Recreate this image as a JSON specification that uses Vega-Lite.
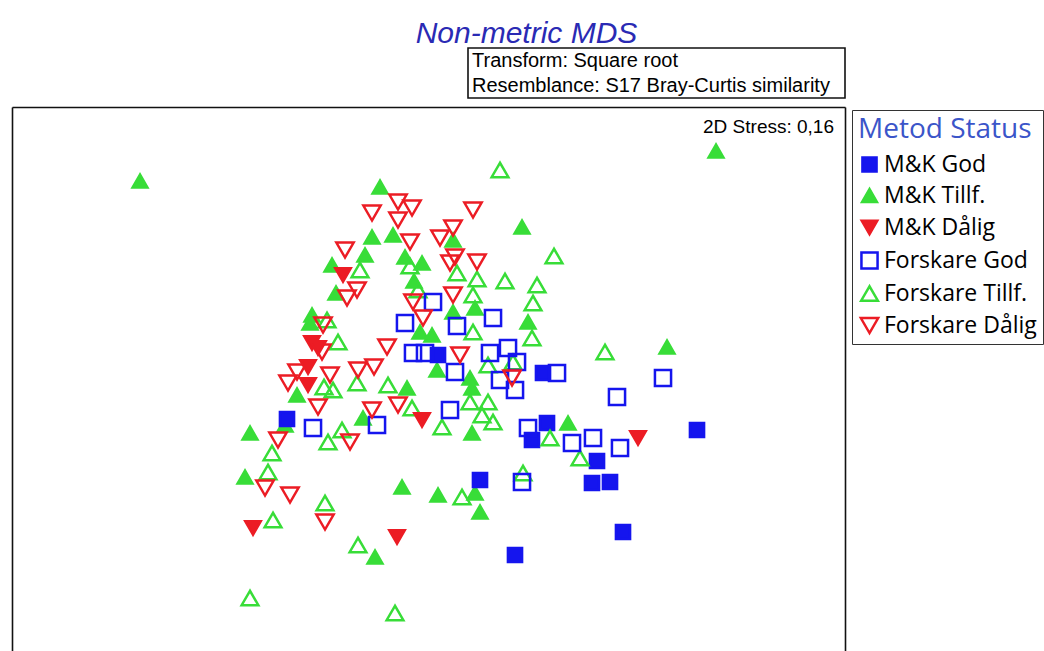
{
  "$schema": "https://vega.github.io/schema/vega-lite/v6.json",
  "autosize": {"type": "none"},
  "padding": {"left": 12, "top": 107, "right": 199, "bottom": 0},
  "width": 833,
  "height": 544,
  "title": {"text": "Non-metric MDS", "anchor": "middle", "frame": "group", "dx": 98, "dy": 33, "offset": 7, "baseline": "alphabetic", "fontSize": 30, "font": "Liberation Sans", "fontStyle": "italic", "fontWeight": "normal", "color": "#2a2ab4"},
  "config": {
    "view": {"stroke": null},
    "axis": {"domainColor": "#111111", "domainWidth": 1.6, "labels": false, "ticks": false, "grid": false},
    "legend": {"strokeColor": "#333333", "padding": 6, "titleFont": "Open Sans", "titleFontSize": 28, "titleFontWeight": "normal", "titleColor": "#3b55c9", "titlePadding": 9, "labelFont": "Open Sans", "labelFontSize": 23, "labelColor": "#000000", "labelOffset": 3, "rowPadding": 7, "symbolStrokeWidth": 2.5, "titleLimit": 400, "labelLimit": 400}
  },
  "resolve": {"axis": {"x": "independent", "y": "independent"}},
  "layer": [
    {
      "data": {"values": [
        {"status": "M&K Tillf.", "MDS1": -1.16, "MDS2": 0.796},
        {"status": "M&K Tillf.", "MDS1": 1.144, "MDS2": 0.916},
        {"status": "M&K Tillf.", "MDS1": 0.368, "MDS2": 0.612},
        {"status": "M&K Tillf.", "MDS1": -0.2, "MDS2": 0.772},
        {"status": "M&K Tillf.", "MDS1": -0.232, "MDS2": 0.572},
        {"status": "M&K Tillf.", "MDS1": -0.148, "MDS2": 0.58},
        {"status": "M&K Tillf.", "MDS1": 0.092, "MDS2": 0.56},
        {"status": "M&K Tillf.", "MDS1": -0.26, "MDS2": 0.5},
        {"status": "M&K Tillf.", "MDS1": -0.1, "MDS2": 0.492},
        {"status": "M&K Tillf.", "MDS1": -0.032, "MDS2": 0.468},
        {"status": "M&K Tillf.", "MDS1": -0.392, "MDS2": 0.46},
        {"status": "M&K Tillf.", "MDS1": -0.376, "MDS2": 0.348},
        {"status": "M&K Tillf.", "MDS1": -0.472, "MDS2": 0.26},
        {"status": "M&K Tillf.", "MDS1": -0.48, "MDS2": 0.228},
        {"status": "M&K Tillf.", "MDS1": -0.532, "MDS2": -0.06},
        {"status": "M&K Tillf.", "MDS1": -0.58, "MDS2": -0.18},
        {"status": "M&K Tillf.", "MDS1": -0.72, "MDS2": -0.212},
        {"status": "M&K Tillf.", "MDS1": -0.268, "MDS2": -0.152},
        {"status": "M&K Tillf.", "MDS1": -0.092, "MDS2": -0.032},
        {"status": "M&K Tillf.", "MDS1": -0.04, "MDS2": 0.192},
        {"status": "M&K Tillf.", "MDS1": 0.008, "MDS2": 0.18},
        {"status": "M&K Tillf.", "MDS1": 0.092, "MDS2": 0.272},
        {"status": "M&K Tillf.", "MDS1": 0.18, "MDS2": 0.288},
        {"status": "M&K Tillf.", "MDS1": 0.392, "MDS2": 0.232},
        {"status": "M&K Tillf.", "MDS1": -0.064, "MDS2": 0.396},
        {"status": "M&K Tillf.", "MDS1": 0.948, "MDS2": 0.132},
        {"status": "M&K Tillf.", "MDS1": 0.028, "MDS2": 0.04},
        {"status": "M&K Tillf.", "MDS1": 0.16, "MDS2": 0.008},
        {"status": "M&K Tillf.", "MDS1": 0.168, "MDS2": -0.032},
        {"status": "M&K Tillf.", "MDS1": 0.168, "MDS2": -0.212},
        {"status": "M&K Tillf.", "MDS1": 0.552, "MDS2": -0.172},
        {"status": "M&K Tillf.", "MDS1": 0.032, "MDS2": -0.46},
        {"status": "M&K Tillf.", "MDS1": 0.18, "MDS2": -0.452},
        {"status": "M&K Tillf.", "MDS1": 0.2, "MDS2": -0.528},
        {"status": "M&K Tillf.", "MDS1": -0.112, "MDS2": -0.428},
        {"status": "M&K Tillf.", "MDS1": -0.74, "MDS2": -0.388},
        {"status": "M&K Tillf.", "MDS1": -0.22, "MDS2": -0.708},
        {"status": "M&K God", "MDS1": -0.572, "MDS2": -0.156},
        {"status": "M&K God", "MDS1": 0.032, "MDS2": 0.1},
        {"status": "M&K God", "MDS1": 0.452, "MDS2": 0.028},
        {"status": "M&K God", "MDS1": 0.468, "MDS2": -0.172},
        {"status": "M&K God", "MDS1": 0.408, "MDS2": -0.24},
        {"status": "M&K God", "MDS1": 0.668, "MDS2": -0.324},
        {"status": "M&K God", "MDS1": 1.068, "MDS2": -0.2},
        {"status": "M&K God", "MDS1": 0.2, "MDS2": -0.4},
        {"status": "M&K God", "MDS1": 0.648, "MDS2": -0.412},
        {"status": "M&K God", "MDS1": 0.72, "MDS2": -0.408},
        {"status": "M&K God", "MDS1": 0.772, "MDS2": -0.608},
        {"status": "M&K God", "MDS1": 0.34, "MDS2": -0.7},
        {"status": "Forskare Tillf.", "MDS1": 0.28, "MDS2": 0.84},
        {"status": "Forskare Tillf.", "MDS1": 0.496, "MDS2": 0.496},
        {"status": "Forskare Tillf.", "MDS1": 0.428, "MDS2": 0.38},
        {"status": "Forskare Tillf.", "MDS1": 0.412, "MDS2": 0.308},
        {"status": "Forskare Tillf.", "MDS1": 0.408, "MDS2": 0.168},
        {"status": "Forskare Tillf.", "MDS1": -0.08, "MDS2": 0.456},
        {"status": "Forskare Tillf.", "MDS1": -0.28, "MDS2": 0.44},
        {"status": "Forskare Tillf.", "MDS1": 0.108, "MDS2": 0.428},
        {"status": "Forskare Tillf.", "MDS1": 0.188, "MDS2": 0.404},
        {"status": "Forskare Tillf.", "MDS1": 0.3, "MDS2": 0.396},
        {"status": "Forskare Tillf.", "MDS1": -0.048, "MDS2": 0.36},
        {"status": "Forskare Tillf.", "MDS1": 0.172, "MDS2": 0.34},
        {"status": "Forskare Tillf.", "MDS1": 0.172, "MDS2": 0.192},
        {"status": "Forskare Tillf.", "MDS1": -0.412, "MDS2": 0.24},
        {"status": "Forskare Tillf.", "MDS1": -0.368, "MDS2": 0.152},
        {"status": "Forskare Tillf.", "MDS1": -0.292, "MDS2": -0.012},
        {"status": "Forskare Tillf.", "MDS1": -0.168, "MDS2": -0.02},
        {"status": "Forskare Tillf.", "MDS1": -0.424, "MDS2": -0.028},
        {"status": "Forskare Tillf.", "MDS1": -0.388, "MDS2": -0.04},
        {"status": "Forskare Tillf.", "MDS1": -0.072, "MDS2": -0.112},
        {"status": "Forskare Tillf.", "MDS1": -0.352, "MDS2": -0.2},
        {"status": "Forskare Tillf.", "MDS1": -0.408, "MDS2": -0.248},
        {"status": "Forskare Tillf.", "MDS1": -0.632, "MDS2": -0.292},
        {"status": "Forskare Tillf.", "MDS1": -0.648, "MDS2": -0.368},
        {"status": "Forskare Tillf.", "MDS1": -0.628, "MDS2": -0.56},
        {"status": "Forskare Tillf.", "MDS1": -0.42, "MDS2": -0.492},
        {"status": "Forskare Tillf.", "MDS1": -0.288, "MDS2": -0.66},
        {"status": "Forskare Tillf.", "MDS1": -0.72, "MDS2": -0.872},
        {"status": "Forskare Tillf.", "MDS1": -0.14, "MDS2": -0.932},
        {"status": "Forskare Tillf.", "MDS1": 0.16, "MDS2": -0.088},
        {"status": "Forskare Tillf.", "MDS1": 0.232, "MDS2": -0.088},
        {"status": "Forskare Tillf.", "MDS1": 0.208, "MDS2": -0.14},
        {"status": "Forskare Tillf.", "MDS1": 0.252, "MDS2": -0.168},
        {"status": "Forskare Tillf.", "MDS1": 0.048, "MDS2": -0.188},
        {"status": "Forskare Tillf.", "MDS1": 0.48, "MDS2": -0.232},
        {"status": "Forskare Tillf.", "MDS1": 0.6, "MDS2": -0.312},
        {"status": "Forskare Tillf.", "MDS1": 0.372, "MDS2": -0.372},
        {"status": "Forskare Tillf.", "MDS1": 0.128, "MDS2": -0.468},
        {"status": "Forskare Tillf.", "MDS1": 0.7, "MDS2": 0.112},
        {"status": "Forskare Tillf.", "MDS1": 0.332, "MDS2": 0.072},
        {"status": "Forskare Tillf.", "MDS1": 0.232, "MDS2": 0.06},
        {"status": "Forskare God", "MDS1": 0.012, "MDS2": 0.312},
        {"status": "Forskare God", "MDS1": -0.1, "MDS2": 0.228},
        {"status": "Forskare God", "MDS1": 0.108, "MDS2": 0.216},
        {"status": "Forskare God", "MDS1": 0.252, "MDS2": 0.248},
        {"status": "Forskare God", "MDS1": -0.068, "MDS2": 0.108},
        {"status": "Forskare God", "MDS1": -0.02, "MDS2": 0.108},
        {"status": "Forskare God", "MDS1": 0.24, "MDS2": 0.108},
        {"status": "Forskare God", "MDS1": 0.312, "MDS2": 0.128},
        {"status": "Forskare God", "MDS1": 0.348, "MDS2": 0.072},
        {"status": "Forskare God", "MDS1": 0.1, "MDS2": 0.032},
        {"status": "Forskare God", "MDS1": 0.28, "MDS2": 0},
        {"status": "Forskare God", "MDS1": 0.34, "MDS2": -0.04},
        {"status": "Forskare God", "MDS1": 0.508, "MDS2": 0.028},
        {"status": "Forskare God", "MDS1": 0.932, "MDS2": 0.008},
        {"status": "Forskare God", "MDS1": 0.748, "MDS2": -0.068},
        {"status": "Forskare God", "MDS1": 0.08, "MDS2": -0.12},
        {"status": "Forskare God", "MDS1": -0.212, "MDS2": -0.18},
        {"status": "Forskare God", "MDS1": -0.468, "MDS2": -0.192},
        {"status": "Forskare God", "MDS1": 0.392, "MDS2": -0.192},
        {"status": "Forskare God", "MDS1": 0.568, "MDS2": -0.252},
        {"status": "Forskare God", "MDS1": 0.652, "MDS2": -0.232},
        {"status": "Forskare God", "MDS1": 0.76, "MDS2": -0.272},
        {"status": "Forskare God", "MDS1": 0.368, "MDS2": -0.408},
        {"status": "Forskare Dålig", "MDS1": -0.128, "MDS2": 0.712},
        {"status": "Forskare Dålig", "MDS1": -0.072, "MDS2": 0.688},
        {"status": "Forskare Dålig", "MDS1": -0.232, "MDS2": 0.668},
        {"status": "Forskare Dålig", "MDS1": 0.172, "MDS2": 0.68},
        {"status": "Forskare Dålig", "MDS1": -0.128, "MDS2": 0.64},
        {"status": "Forskare Dålig", "MDS1": -0.08, "MDS2": 0.552},
        {"status": "Forskare Dålig", "MDS1": 0.04, "MDS2": 0.568},
        {"status": "Forskare Dålig", "MDS1": 0.092, "MDS2": 0.608},
        {"status": "Forskare Dålig", "MDS1": -0.34, "MDS2": 0.52},
        {"status": "Forskare Dålig", "MDS1": 0.1, "MDS2": 0.492},
        {"status": "Forskare Dålig", "MDS1": 0.08, "MDS2": 0.468},
        {"status": "Forskare Dålig", "MDS1": 0.188, "MDS2": 0.472},
        {"status": "Forskare Dålig", "MDS1": -0.292, "MDS2": 0.36},
        {"status": "Forskare Dålig", "MDS1": -0.332, "MDS2": 0.328},
        {"status": "Forskare Dålig", "MDS1": -0.428, "MDS2": 0.22},
        {"status": "Forskare Dålig", "MDS1": -0.432, "MDS2": 0.112},
        {"status": "Forskare Dålig", "MDS1": -0.532, "MDS2": 0.032},
        {"status": "Forskare Dålig", "MDS1": -0.568, "MDS2": -0.012},
        {"status": "Forskare Dålig", "MDS1": -0.4, "MDS2": 0.02},
        {"status": "Forskare Dålig", "MDS1": -0.448, "MDS2": -0.108},
        {"status": "Forskare Dålig", "MDS1": -0.288, "MDS2": 0.04},
        {"status": "Forskare Dålig", "MDS1": -0.224, "MDS2": 0.052},
        {"status": "Forskare Dålig", "MDS1": -0.172, "MDS2": 0.132},
        {"status": "Forskare Dålig", "MDS1": -0.128, "MDS2": -0.1},
        {"status": "Forskare Dålig", "MDS1": -0.232, "MDS2": -0.12},
        {"status": "Forskare Dålig", "MDS1": -0.32, "MDS2": -0.248},
        {"status": "Forskare Dålig", "MDS1": -0.608, "MDS2": -0.24},
        {"status": "Forskare Dålig", "MDS1": -0.66, "MDS2": -0.432},
        {"status": "Forskare Dålig", "MDS1": -0.56, "MDS2": -0.46},
        {"status": "Forskare Dålig", "MDS1": -0.42, "MDS2": -0.568},
        {"status": "Forskare Dålig", "MDS1": 0.092, "MDS2": 0.34},
        {"status": "Forskare Dålig", "MDS1": -0.068, "MDS2": 0.312},
        {"status": "Forskare Dålig", "MDS1": -0.028, "MDS2": 0.248},
        {"status": "Forskare Dålig", "MDS1": 0.12, "MDS2": 0.1},
        {"status": "Forskare Dålig", "MDS1": 0.328, "MDS2": 0.008},
        {"status": "M&K Dålig", "MDS1": -0.348, "MDS2": 0.42},
        {"status": "M&K Dålig", "MDS1": -0.472, "MDS2": 0.148},
        {"status": "M&K Dålig", "MDS1": -0.448, "MDS2": 0.128},
        {"status": "M&K Dålig", "MDS1": -0.488, "MDS2": 0.052},
        {"status": "M&K Dålig", "MDS1": -0.488, "MDS2": -0.02},
        {"status": "M&K Dålig", "MDS1": -0.032, "MDS2": -0.16},
        {"status": "M&K Dålig", "MDS1": 0.832, "MDS2": -0.232},
        {"status": "M&K Dålig", "MDS1": -0.708, "MDS2": -0.592},
        {"status": "M&K Dålig", "MDS1": -0.132, "MDS2": -0.628}
      ]},
      "mark": {"type": "point", "opacity": 1, "strokeWidth": 2.5, "strokeJoin": "miter"},
      "encoding": {
        "x": {"field": "MDS1", "type": "quantitative", "scale": {"domain": [-1.672, 1.66], "nice": false, "zero": false}, "axis": {"orient": "top", "title": null}},
        "y": {"field": "MDS2", "type": "quantitative", "scale": {"domain": [-1.084, 1.092], "nice": false, "zero": false}, "axis": {"orient": "left", "title": null}},
        "shape": {"field": "status", "type": "nominal", "title": "Metod Status",
          "scale": {"domain": ["M&K God", "M&K Tillf.", "M&K Dålig", "Forskare God", "Forskare Tillf.", "Forskare Dålig"], "range": ["square", "triangle-up", "triangle-down", "square", "triangle-up", "triangle-down"]},
          "legend": {"orient": "none", "legendX": 840, "legendY": 3}},
        "fill": {"field": "status", "type": "nominal", "title": "Metod Status",
          "scale": {"domain": ["M&K God", "M&K Tillf.", "M&K Dålig", "Forskare God", "Forskare Tillf.", "Forskare Dålig"], "range": ["#1515ee", "#38dd38", "#ec1c24", "transparent", "transparent", "transparent"]},
          "legend": {"orient": "none", "legendX": 840, "legendY": 3}},
        "stroke": {"field": "status", "type": "nominal", "title": "Metod Status",
          "scale": {"domain": ["M&K God", "M&K Tillf.", "M&K Dålig", "Forskare God", "Forskare Tillf.", "Forskare Dålig"], "range": ["#1515ee", "#38dd38", "#ec1c24", "#1515ee", "#38dd38", "#ec1c24"]},
          "legend": {"orient": "none", "legendX": 840, "legendY": 3}},
        "size": {"field": "status", "type": "nominal", "title": "Metod Status",
          "scale": {"domain": ["M&K God", "M&K Tillf.", "M&K Dålig", "Forskare God", "Forskare Tillf.", "Forskare Dålig"], "range": [200, 300, 300, 190, 290, 290]},
          "legend": {"orient": "none", "legendX": 840, "legendY": 3}}
      }
    },
    {
      "data": {"values": [{}]},
      "mark": {"type": "text", "align": "right", "baseline": "middle", "font": "Liberation Sans", "fontSize": 19, "color": "#000000"},
      "encoding": {
        "x": {"datum": 1.616, "type": "quantitative", "axis": null},
        "y": {"datum": 1.012, "type": "quantitative", "axis": {"orient": "right", "title": null}},
        "text": {"value": "2D Stress: 0,16"}
      }
    },
    {
      "data": {"values": [{}]},
      "mark": {"type": "rect", "fill": "white", "stroke": "#111111", "strokeWidth": 1.6},
      "encoding": {
        "x": {"datum": 0.152, "type": "quantitative", "axis": null},
        "x2": {"datum": 1.66},
        "y": {"datum": 1.328, "type": "quantitative", "axis": null},
        "y2": {"datum": 1.128}
      }
    },
    {
      "data": {"values": [{}]},
      "mark": {"type": "text", "align": "left", "baseline": "middle", "font": "Liberation Sans", "fontSize": 20, "color": "#000000"},
      "encoding": {
        "x": {"datum": 0.168, "type": "quantitative", "axis": null},
        "y": {"datum": 1.276, "type": "quantitative", "axis": null},
        "text": {"value": "Transform: Square root"}
      }
    },
    {
      "data": {"values": [{}]},
      "mark": {"type": "text", "align": "left", "baseline": "middle", "font": "Liberation Sans", "fontSize": 20, "color": "#000000"},
      "encoding": {
        "x": {"datum": 0.168, "type": "quantitative", "axis": null},
        "y": {"datum": 1.176, "type": "quantitative", "axis": null},
        "text": {"value": "Resemblance: S17 Bray-Curtis similarity"}
      }
    }
  ]
}
